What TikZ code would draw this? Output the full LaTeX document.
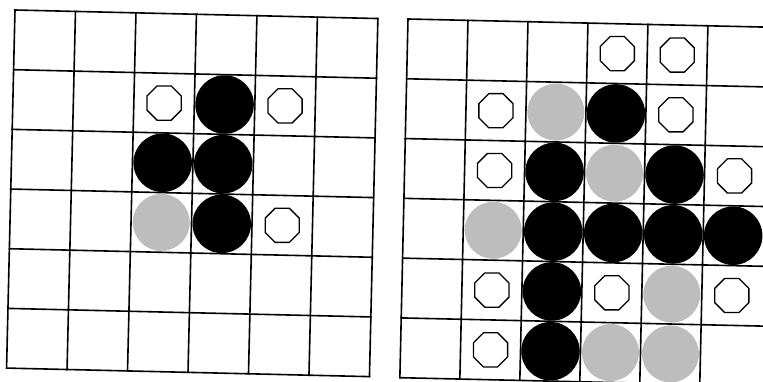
\documentclass[tikz,border=0pt]{standalone}
\usetikzlibrary{shapes.geometric}
\tikzset{
  gridline/.style={line width=1.6pt, draw=black, line cap=rect},
  blk/.style={circle, fill=black, minimum size=58.5pt, inner sep=0pt},
  gry/.style={circle, fill=gray!52, minimum size=57pt, inner sep=0pt},
  wht/.style={regular polygon, regular polygon sides=8, draw=black, line width=1.3pt, fill=white, minimum size=37pt, inner sep=0pt},
}
\begin{document}
\begin{tikzpicture}[x=1pt,y=1pt]
\useasboundingbox (0,0) rectangle (763,381);
\clip (0,0) rectangle (763,381);
% left board
\begin{scope}[shift={(15,371)}, rotate=-1.35, x=60.5pt, y=-59.7pt]
  \foreach \i in {0,...,6} {
    \draw[gridline] (\i,0) -- (\i,6);
    \draw[gridline] (0,\i) -- (6,\i);
  }
  \node[wht] (L12) at (2.5,1.5) {};
  \node[blk] (L13) at (3.5,1.5) {};
  \node[wht] (L14) at (4.5,1.5) {};
  \node[blk] (L22) at (2.5,2.5) {};
  \node[blk] (L23) at (3.5,2.5) {};
  \node[gry] (L32) at (2.5,3.5) {};
  \node[blk] (L33) at (3.5,3.5) {};
  \node[wht] (L34) at (4.5,3.5) {};
\end{scope}
% right board
\begin{scope}[shift={(408,362)}, rotate=-1.3, x=60pt, y=-59.8pt]
  \foreach \i in {0,...,5} {
    \draw[gridline] (\i,0) -- (\i,6);
  }
  \foreach \i in {0,...,6} {
    \draw[gridline] (0,\i) -- (6.3,\i);
  }
  \node[wht] (R03) at (3.5,0.5) {};
  \node[wht] (R04) at (4.5,0.5) {};
  \node[wht] (R11) at (1.5,1.5) {};
  \node[gry] (R12) at (2.5,1.5) {};
  \node[blk] (R13) at (3.5,1.5) {};
  \node[wht] (R14) at (4.5,1.5) {};
  \node[wht] (R21) at (1.5,2.5) {};
  \node[blk] (R22) at (2.5,2.5) {};
  \node[gry] (R23) at (3.5,2.5) {};
  \node[blk] (R24) at (4.5,2.5) {};
  \node[wht] (R25) at (5.5,2.5) {};
  \node[gry] (R31) at (1.5,3.5) {};
  \node[blk] (R32) at (2.5,3.5) {};
  \node[blk] (R33) at (3.5,3.5) {};
  \node[blk] (R34) at (4.5,3.5) {};
  \node[blk] (R35) at (5.5,3.5) {};
  \node[wht] (R41) at (1.5,4.5) {};
  \node[blk] (R42) at (2.5,4.5) {};
  \node[wht] (R43) at (3.5,4.5) {};
  \node[gry] (R44) at (4.5,4.5) {};
  \node[wht] (R45) at (5.5,4.5) {};
  \node[wht] (R51) at (1.5,5.5) {};
  \node[blk] (R52) at (2.5,5.5) {};
  \node[gry] (R53) at (3.5,5.5) {};
  \node[gry] (R54) at (4.5,5.5) {};
\end{scope}
\end{tikzpicture}
\end{document}
